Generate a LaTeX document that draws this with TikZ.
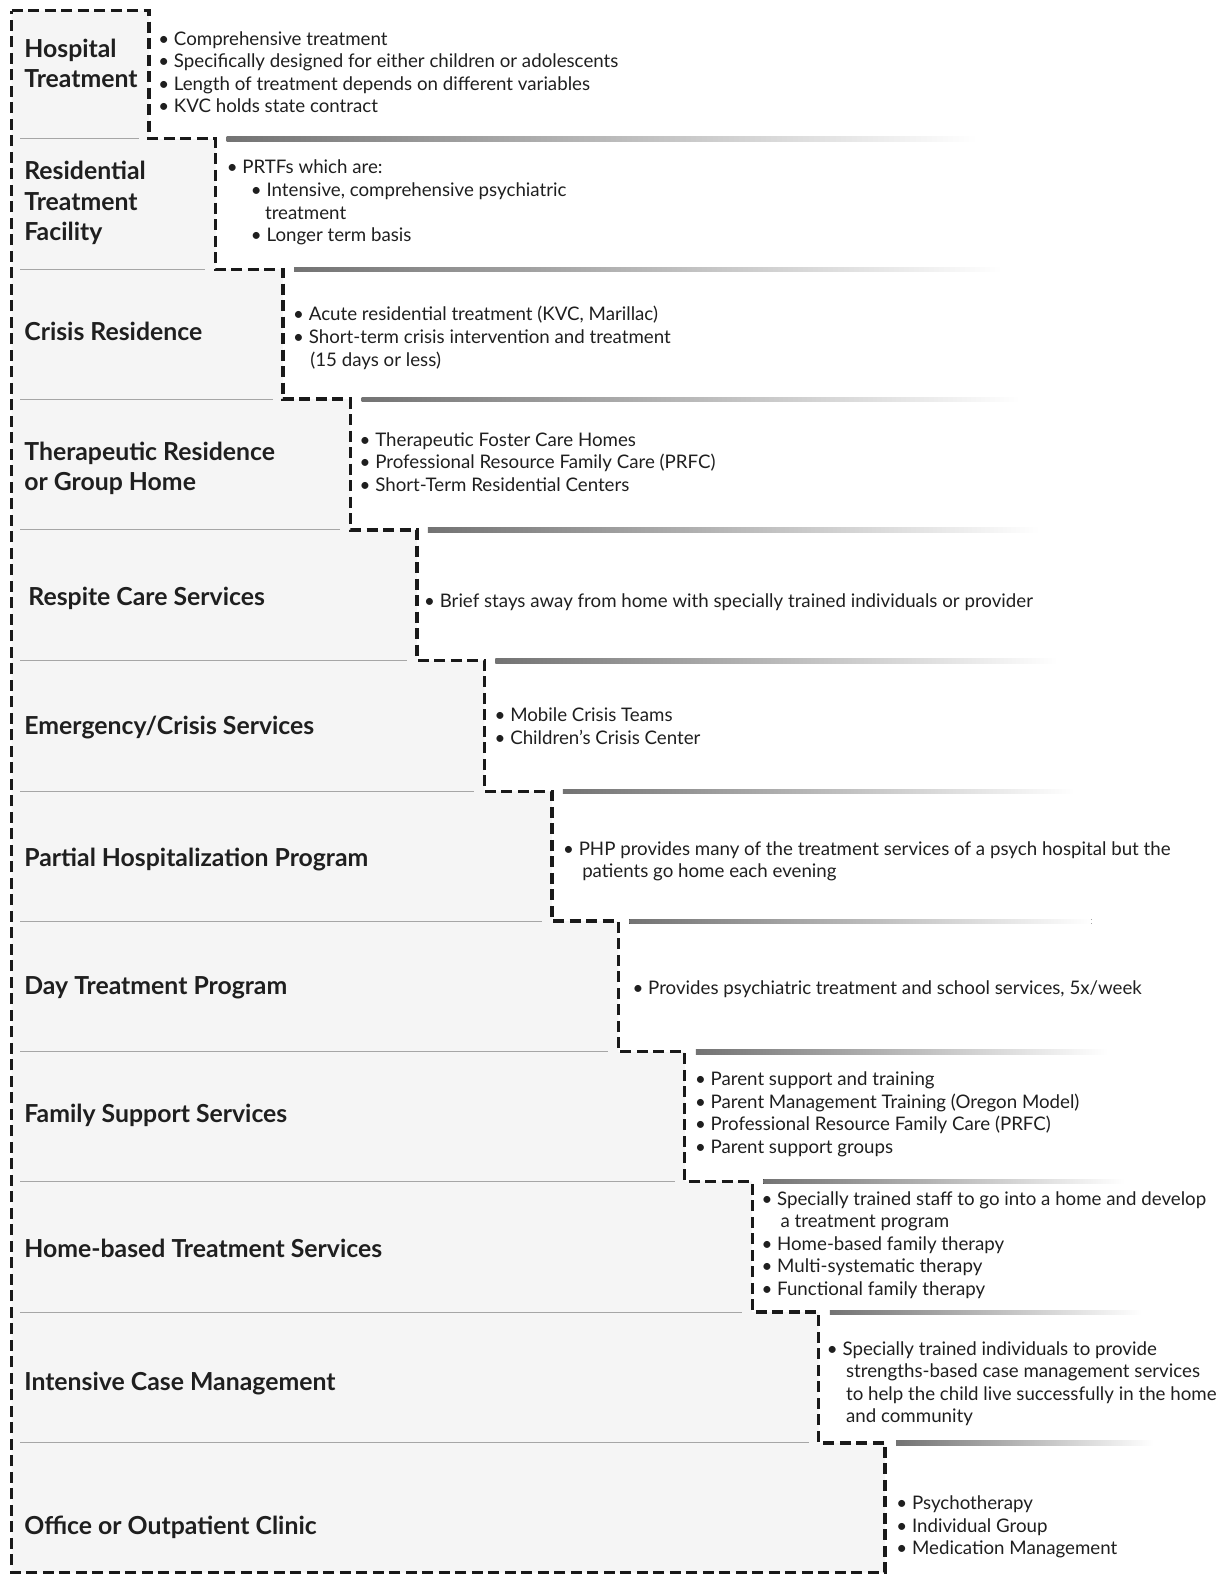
\documentclass[tikz,border=0pt]{standalone}
\usepackage{fontspec}
\setmainfont{Lato}
\begin{document}
\begin{tikzpicture}[x=1.007pt,y=-1.0055pt,
  title/.style={font=\fontsize{24.8}{30}\selectfont\bfseries, anchor=base west, inner sep=0, text=black!88},
  item/.style={font=\fontsize{18.7}{22}\selectfont, anchor=base west, inner sep=0, text=black!88},
  stair/.style={line width=3.4pt, dash pattern=on 11pt off 5.5pt, black!90},
  sep/.style={line width=1pt, black!35},
  fade/.style={left color=black!55, right color=white}]
\useasboundingbox (0,0) rectangle (1216.5,1566.4);
% staircase fill
\def\stairpath{(11.5,10.5) -- (148,10.5) -- (148,138) -- (214,138) -- (214,268) -- (281,268) -- (281,397) -- (348,397) -- (348,527) -- (414,527) -- (414,657) -- (481,657) -- (481,787) -- (548,787) -- (548,916) -- (614,916) -- (614,1046) -- (680,1046) -- (680,1175) -- (747,1175) -- (747,1305) -- (813,1305) -- (813,1435) -- (879,1435) -- (879,1564) -- (11.5,1564) -- cycle}
\fill[black!4] \stairpath;
% separators and fading lines
\foreach \y/\xa/\xb/\r in {138/148/214/970, 268/214/281/995, 397/281/348/1013, 527/348/414/1032, 657/414/481/1050, 787/481/548/1067, 916/548/614/1084, 1046/614/680/1100, 1175/680/747/1117, 1305/747/813/1134, 1435/813/879/1145}{
  \draw[sep] (20,\y) -- ({\xa-10},\y);
  \fill[fade] ({\xb+11},{\y-2}) rectangle (\r,{\y+2.5});
}
\draw[stair] \stairpath;
% titles
\node[title] (t1a) at (24,57) {Hospital};
\node[title] (t1b) at (24,87) {Treatment};
\node[title] (t2a) at (24,179) {Residential};
\node[title] (t2b) at (24,209) {Treatment};
\node[title] (t2c) at (24,239) {Facility};
\node[title] (t3) at (24,339) {Crisis Residence};
\node[title] (t4a) at (24,458) {Therapeutic Residence};
\node[title] (t4b) at (24,488) {or Group Home};
\node[title] (t5) at (28,602) {Respite Care Services};
\node[title] (t6) at (24,730) {Emergency/Crisis Services};
\node[title] (t7) at (24,862) {Partial Hospitalization Program};
\node[title] (t8) at (24,989) {Day Treatment Program};
\node[title] (t9) at (24,1116) {Family Support Services};
\node[title] (t10) at (24,1251) {Home-based Treatment Services};
\node[title] (t11) at (24,1383) {Intensive Case Management};
\node[title] (t12) at (24,1526) {Office or Outpatient Clinic};
% items
\node[item] (i1a) at (157,45) {• Comprehensive treatment};
\node[item] (i1b) at (157,67) {• Specifically designed for either children or adolescents};
\node[item] (i1c) at (157,90) {• Length of treatment depends on different variables};
\node[item] (i1d) at (157,112) {• KVC holds state contract};
\node[item] (i2a) at (225,173) {• PRTFs which are:};
\node[item] (i2b) at (249,195) {• Intensive, comprehensive psychiatric};
\node[item] (i2c) at (263,218) {treatment};
\node[item] (i2d) at (249,240) {• Longer term basis};
\node[item] (i3a) at (291,319) {• Acute residential treatment (KVC, Marillac)};
\node[item] (i3b) at (291,342) {• Short-term crisis intervention and treatment};
\node[item] (i3c) at (308,364) {(15 days or less)};
\node[item] (i4a) at (357,444) {• Therapeutic Foster Care Homes};
\node[item] (i4b) at (357,466) {• Professional Resource Family Care (PRFC)};
\node[item] (i4c) at (357,489) {• Short-Term Residential Centers};
\node[item] (i5) at (421,604) {• Brief stays away from home with specially trained individuals or provider};
\node[item] (i6a) at (491,718) {• Mobile Crisis Teams};
\node[item] (i6b) at (491,740) {• Children’s Crisis Center};
\node[item] (i7a) at (559,851) {• PHP provides many of the treatment services of a psych hospital but the};
\node[item] (i7b) at (578,873) {patients go home each evening};
\node[item] (i8) at (628,989) {• Provides psychiatric treatment and school services, 5x/week};
\node[item] (i9a) at (690,1080) {• Parent support and training};
\node[item] (i9b) at (690,1102) {• Parent Management Training (Oregon Model)};
\node[item] (i9c) at (690,1124) {• Professional Resource Family Care (PRFC)};
\node[item] (i9d) at (690,1147) {• Parent support groups};
\node[item] (i10a) at (756,1199) {• Specially trained staff to go into a home and develop};
\node[item] (i10b) at (775,1221) {a treatment program};
\node[item] (i10c) at (756,1244) {• Home-based family therapy};
\node[item] (i10d) at (756,1266) {• Multi-systematic therapy};
\node[item] (i10e) at (756,1288) {• Functional family therapy};
\node[item] (i11a) at (821,1348) {• Specially trained individuals to provide};
\node[item] (i11b) at (840,1370) {strengths-based case management services};
\node[item] (i11c) at (840,1393) {to help the child live successfully in the home};
\node[item] (i11d) at (840,1415) {and community};
\node[item] (i12a) at (890,1501) {• Psychotherapy};
\node[item] (i12b) at (890,1524) {• Individual Group};
\node[item] (i12c) at (890,1546) {• Medication Management};
\end{tikzpicture}
\end{document}
